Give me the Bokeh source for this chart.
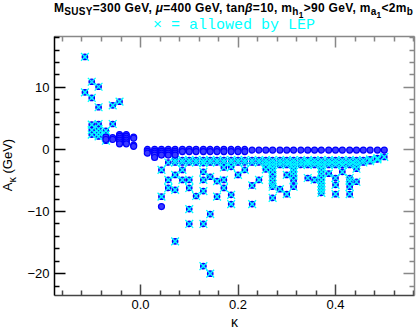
from bokeh.plotting import figure
from bokeh.models import (Div, LinearAxis, Range1d, FixedTicker,
                          CustomJSTickFormatter, ColumnDataSource)
from bokeh.layouts import column, row
from bokeh.embed import file_html
from bokeh.resources import INLINE

# ---------------- data ----------------
# points allowed by LEP (drawn with a blue circle and a cyan cross)
allowed_kappa = [
    -0.114, -0.114,
    -0.100, -0.100, -0.100, -0.100, -0.100,
    -0.086, -0.086, -0.086, -0.086, -0.086, -0.086,
    -0.071, -0.071, -0.071, -0.071,
    -0.057, -0.057,
    -0.043,
    0.043, 0.043,
    0.057, 0.057,
    0.071, 0.071, 0.071,
    0.086, 0.086,
    0.100, 0.100, 0.100, 0.100,
    0.114,
    0.129, 0.129, 0.129, 0.129, 0.129, 0.129,
    0.143, 0.143, 0.143,
    0.157, 0.157,
    0.171, 0.171, 0.171,
    0.186, 0.186, 0.186,
    0.200,
    0.214,
    0.229, 0.229,
    0.243,
    0.257,
    0.271, 0.271, 0.271, 0.271, 0.271, 0.271, 0.271,
    0.286,
    0.300, 0.300,
    0.314, 0.314, 0.314, 0.314, 0.314,
    0.343, 0.343,
    0.357,
    0.371, 0.371, 0.371, 0.371, 0.371, 0.371, 0.371, 0.371,
    0.386,
    0.400, 0.400, 0.400,
    0.414, 0.414,
    0.429, 0.429, 0.429, 0.429,
    0.443, 0.443,
]
allowed_A = [
    14.9, 9.2,
    10.9, 8.3, 4.0, 3.1, 2.4,
    10.1, 6.8, 4.1, 3.3, 2.7, 2.1,
    3.0, 2.4, 1.8, 1.4,
    7.1, 4.1,
    7.7,
    -3.3, -7.6,
    -4.9, -6.2,
    -4.1, -6.5, -14.8,
    -3.3, -4.9,
    -4.9, -6.2, -9.6, -12.0,
    -7.5,
    -2.2, -3.6, -4.9, -6.7, -12.0, -18.8,
    -4.4, -10.4, -20.0,
    -5.1, -7.6,
    -2.9, -4.9, -6.2,
    -2.8, -7.3, -8.8,
    -4.1,
    -3.3,
    -5.8, -8.8,
    -4.9,
    -3.2,
    -3.0, -3.6, -4.4, -5.0, -5.6, -6.0, -7.8,
    -6.4,
    -4.1, -7.2,
    -3.0, -3.6, -4.2, -5.0, -6.0,
    -2.0, -4.6,
    -4.9,
    -3.0, -3.6, -4.2, -4.9, -5.5, -6.0, -6.5, -7.0,
    -3.9,
    -4.6, -5.7, -7.2,
    -2.5, -3.6,
    -4.6, -5.1, -6.0, -7.2,
    -3.1, -5.2,
]

# dense band of allowed points just below A_kappa = 0
band_kappa = [
    0.057,
    0.071, 0.071, 0.086, 0.086, 0.100, 0.100, 0.114, 0.114, 0.129, 0.129,
    0.143, 0.143, 0.157, 0.157, 0.171, 0.171, 0.186, 0.186, 0.200, 0.200,
    0.214, 0.214, 0.229, 0.229, 0.243, 0.243,
    0.257, 0.257, 0.257, 0.271, 0.271, 0.271, 0.286, 0.286, 0.286,
    0.300, 0.300, 0.300, 0.314, 0.314, 0.314, 0.329, 0.329, 0.329,
    0.343, 0.343, 0.343, 0.357, 0.357, 0.357, 0.371, 0.371, 0.371,
    0.386, 0.386, 0.386, 0.400, 0.400, 0.400, 0.414, 0.414, 0.414,
    0.429, 0.429, 0.429, 0.443, 0.443, 0.443,
    0.457, 0.457, 0.471, 0.471, 0.486, 0.486, 0.500,
]
band_A = [
    -2.1,
    -1.7, -2.1, -1.7, -2.1, -1.7, -2.1, -1.7, -2.1, -1.7, -2.1,
    -1.7, -2.1, -1.7, -2.1, -1.7, -2.1, -1.7, -2.1, -1.7, -2.1,
    -1.7, -2.1, -1.7, -2.1, -1.7, -2.1,
    -1.7, -2.1, -2.5, -1.7, -2.1, -2.5, -1.7, -2.1, -2.5,
    -1.7, -2.1, -2.5, -1.7, -2.1, -2.5, -1.7, -2.1, -2.5,
    -1.7, -2.1, -2.5, -1.7, -2.1, -2.5, -1.7, -2.1, -2.5,
    -1.7, -2.1, -2.5, -1.7, -2.1, -2.5, -1.7, -2.1, -2.5,
    -1.7, -2.1, -2.5, -1.7, -2.1, -2.5,
    -1.7, -2.1, -1.6, -1.9, -1.4, -1.6, -1.2,
]

# points excluded by LEP (blue circle only)
excluded_kappa = [
    -0.071, -0.071,
    -0.057, -0.057,
    -0.043, -0.043, -0.043, -0.043, -0.043, -0.043,
    -0.029, -0.029, -0.029, -0.029, -0.029, -0.029,
    -0.014, -0.014, -0.014, -0.014,
    0.014, 0.014, 0.014,
    0.029, 0.029, 0.029, 0.029, 0.029,
    0.043, 0.043, 0.043, 0.043, 0.043,
    0.057, 0.057, 0.057, 0.057,
    0.071, 0.071, 0.071, 0.071,
    0.086, 0.086, 0.100, 0.100, 0.114, 0.114, 0.129, 0.129, 0.143, 0.143,
    0.157, 0.157, 0.171, 0.171, 0.186, 0.186, 0.200, 0.200, 0.214, 0.214,
    0.229, 0.243, 0.257, 0.271, 0.286, 0.300, 0.314, 0.329, 0.343, 0.357,
    0.371, 0.386, 0.400, 0.414, 0.429, 0.443, 0.457, 0.471, 0.486, 0.500,
]
excluded_A = [
    2.0, 1.6,
    1.9, 1.6,
    2.4, 2.1, 1.8, 1.5, 1.2, 0.9,
    2.4, 2.1, 1.8, 1.5, 1.2, 0.9,
    2.0, 1.8, 0.7, 0.5,
    0.0, -0.3, -0.6,
    0.0, -0.3, -0.6, -0.9, -1.3,
    0.0, -0.3, -0.6, -0.9, -9.2,
    0.0, -0.3, -0.6, -0.9,
    0.0, -0.3, -0.6, -0.9,
    0.0, -0.35, 0.0, -0.35, 0.0, -0.35, 0.0, -0.35, 0.0, -0.35,
    0.0, -0.35, 0.0, -0.35, 0.0, -0.35, 0.0, -0.35, 0.0, -0.35,
    -0.1, -0.1, -0.1, -0.1, -0.1, -0.1, -0.1, -0.1, -0.1, -0.1,
    -0.1, -0.1, -0.1, -0.1, -0.1, -0.1, -0.1, -0.1, -0.1, -0.1,
]

x_major = [0.0, 0.2, 0.4]
x_minor = [-0.16, -0.12, -0.08, -0.04, 0.04, 0.08, 0.12, 0.16,
           0.24, 0.28, 0.32, 0.36, 0.44, 0.48, 0.52, 0.56]
y_major = [-20, -10, 0, 10]
y_minor = [-22, -18, -16, -14, -12, -8, -6, -4, -2,
           2, 4, 6, 8, 12, 14, 16, 18]

title_line1 = ('M<sub>SUSY</sub>=300 GeV, <i>&mu;</i>=400 GeV, tan<i>&beta;</i>=10, '
               'm<sub>h<sub>1</sub></sub>&gt;90 GeV, m<sub>a<sub>1</sub></sub>&lt;2m<sub>b</sub>')
title_line2 = '&times; = allowed by LEP'
x_title = '\u03ba'
y_title = 'A<sub>&kappa;</sub> (GeV)'

FONT = "Liberation Sans"
BLUE = "#0000ff"
CYAN = "#00ffff"

# ---------------- figure ----------------
YLAB_W = 20
p = figure(width=417 - YLAB_W, height=298,
           x_range=Range1d(-0.1764, 0.562), y_range=Range1d(-23.52, 18.19),
           output_backend="svg", toolbar_location=None,
           x_axis_type=None, y_axis_type=None,
           min_border_left=54 - YLAB_W, min_border_right=3,
           min_border_top=2, min_border_bottom=36)
p.outline_line_color = None
p.background_fill_color = "white"
p.border_fill_color = "white"

x_fmt = CustomJSTickFormatter(code="return tick.toFixed(1);")
y_fmt = CustomJSTickFormatter(code="return tick < 0 ? '\u2212' + (-tick) : String(tick);")
blank_fmt = CustomJSTickFormatter(code="return '';")


def make_axis(major, minor, fmt, color, labels, standoff):
    ax = LinearAxis(ticker=FixedTicker(ticks=major, minor_ticks=minor), formatter=fmt)
    ax.major_tick_in = 11
    ax.major_tick_out = 0
    ax.minor_tick_in = 5
    ax.minor_tick_out = 0
    ax.axis_line_color = color
    ax.major_tick_line_color = color
    ax.minor_tick_line_color = color
    ax.axis_line_width = 1.5
    ax.major_tick_line_width = 1.5
    ax.minor_tick_line_width = 1.5
    if labels:
        ax.major_label_text_font = FONT
        ax.major_label_text_font_size = "13px"
        ax.major_label_text_color = "black"
        ax.major_label_standoff = standoff
    else:
        ax.major_label_text_font_size = "0px"
        ax.major_label_standoff = 0
    return ax


xaxis = make_axis(x_major, x_minor, x_fmt, "#444444", True, 4)
xaxis.axis_label = x_title
xaxis.axis_label_text_font = FONT
xaxis.axis_label_text_font_size = "14px"
xaxis.axis_label_text_font_style = "normal"
xaxis.axis_label_text_color = "black"
xaxis.axis_label_standoff = 2
p.add_layout(xaxis, "below")
p.add_layout(make_axis(y_major, y_minor, y_fmt, "black", True, 5), "left")
p.add_layout(make_axis(x_major, x_minor, blank_fmt, "#888888", False, 0), "above")
p.add_layout(make_axis(y_major, y_minor, blank_fmt, "#888888", False, 0), "right")

src_allowed = ColumnDataSource(dict(k=allowed_kappa, a=allowed_A))
src_band = ColumnDataSource(dict(k=band_kappa, a=band_A))
src_excl = ColumnDataSource(dict(k=excluded_kappa, a=excluded_A))

for src in (src_band, src_allowed):
    p.scatter("k", "a", source=src, marker="circle", size=5.5,
              fill_color="#3a3aff", line_color=BLUE, line_width=1.2)
for src in (src_band, src_allowed):
    p.scatter("k", "a", source=src, marker="x", size=11,
              line_color=CYAN, line_width=1.3)
p.scatter("k", "a", source=src_excl, marker="circle", size=6,
          fill_color="#3a3aff", line_color=BLUE, line_width=1.2)

# y-axis title (with subscript) as a rotated HTML block
ydiv = Div(text='<div style="position:relative; width:%dpx; height:298px;">'
                '<div style="position:absolute; left:10px; top:131px; '
                'transform:translate(-50%%,-50%%) rotate(-90deg); white-space:nowrap; '
                'font-family:\'Liberation Sans\'; font-size:13px; line-height:14px; color:black;">'
                % YLAB_W + y_title + '</div></div>',
           width=YLAB_W, height=298, margin=(0, 0, 0, 0))

div1 = Div(text='<div style="margin-left:54px; white-space:nowrap; font-family:\'Liberation Sans\'; '
                'font-weight:bold; font-size:12px; line-height:14px; letter-spacing:0.3px; color:black;">'
                + title_line1 + '</div>',
           width=417, height=14, margin=(0, 0, 0, 0))
div2 = Div(text='<div style="margin-left:54px; width:360px; padding-top:3px; text-align:center; '
                'white-space:nowrap; font-family:\'Liberation Mono\'; font-size:15px; '
                'line-height:17px; color:#00ffff;">'
                + title_line2 + '</div>',
           width=417, height=20, margin=(0, 0, 0, 0))

layout = column(div1, div2, row(ydiv, p, spacing=0), spacing=0)

with open("out.html", "w", encoding="utf-8") as f:
    f.write(file_html(layout, INLINE))
